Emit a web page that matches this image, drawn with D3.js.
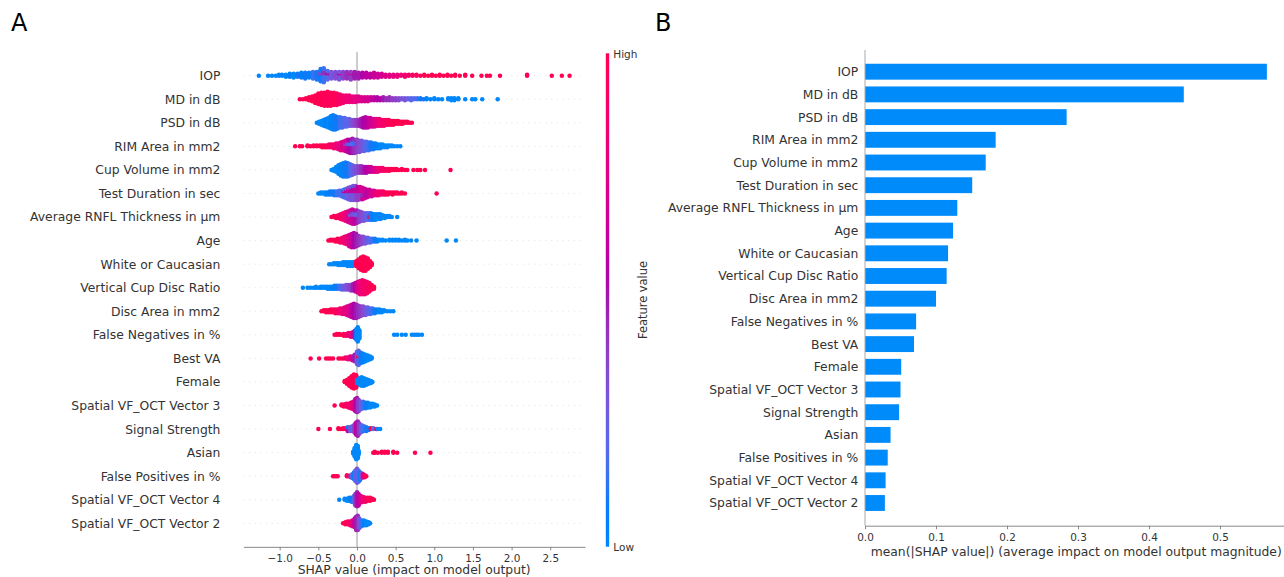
<!DOCTYPE html>
<html>
<head>
<meta charset="utf-8">
<script src="https://cdn.jsdelivr.net/npm/d3@7"></script>
<style>
  body { margin: 0; background: #fff; }
  svg { display: block; }
  text { font-family: "DejaVu Sans", sans-serif; }
</style>
</head>
<body>
<svg id="chart" width="1284" height="577"></svg>
<script>
// Features, ordered by mean |SHAP|
const features = [
  "IOP", "MD in dB", "PSD in dB", "RIM Area in mm2", "Cup Volume in mm2",
  "Test Duration in sec", "Average RNFL Thickness in µm", "Age", "White or Caucasian",
  "Vertical Cup Disc Ratio", "Disc Area in mm2", "False Negatives in %", "Best VA",
  "Female", "Spatial VF_OCT Vector 3", "Signal Strength", "Asian",
  "False Positives in %", "Spatial VF_OCT Vector 4", "Spatial VF_OCT Vector 2"
];

// mean(|SHAP value|) per feature
const meanAbsShap = [0.566, 0.449, 0.284, 0.184, 0.170, 0.151, 0.130, 0.124, 0.117, 0.115,
  0.100, 0.072, 0.069, 0.051, 0.050, 0.048, 0.036, 0.032, 0.029, 0.028];

const shapTicks = [-1.0, -0.5, 0.0, 0.5, 1.0, 1.5, 2.0, 2.5];
const barTicks = [0.0, 0.1, 0.2, 0.3, 0.4, 0.5];

// SHAP samples per feature: [shap value, number of samples, normalised feature value (0 low .. 1 high)]
const iop = [
  [-1.27,1,0],[-1.15,1,0],[-1.10,1,0],[-1.05,1,0],[-1.01,2,0],[-0.97,2,0.05],
  [-0.92,3,0],[-0.87,4,0.05],[-0.82,5,0],[-0.77,4,0.1],[-0.72,6,0.05],[-0.67,7,0.1],[-0.62,6,0.05],[-0.57,8,0.15],[-0.52,9,0.1],
  [-0.47,10,0.1],[-0.47,4,0.4],[-0.43,10,0.15],[-0.43,6,0.45],[-0.38,6,0.2],[-0.38,4,0.5],
  [-0.33,8,0.3],[-0.28,8,0.35],[-0.23,6,0.3],[-0.23,3,0.6],[-0.18,8,0.4],[-0.13,8,0.45],[-0.08,6,0.4],[-0.08,3,0.7],[-0.03,8,0.5],
  [0.02,7,0.5],[0.07,6,0.55],[0.12,6,0.6],[0.17,5,0.6],[0.22,6,0.65],[0.27,5,0.65],[0.32,4,0.7],[0.37,3,0.75],[0.42,3,0.75],
  [0.47,3,0.8],[0.52,3,0.8],[0.57,2,0.85],[0.62,3,0.85],[0.67,2,0.9],[0.72,2,0.9],[0.77,2,0.95],[0.82,1,0.95],[0.87,2,1],
  [0.92,1,1],[0.97,2,1],[1.02,1,1],[1.07,2,1],[1.12,1,1],[1.17,2,1],[1.22,1,1],[1.27,2,1],[1.33,1,1],[1.40,2,1],
  [1.49,1,1],[1.61,1,1],[1.68,1,1],[1.72,1,1],[1.85,1,1],[2.20,2,1],[2.52,1,1],[2.65,1,1],[2.75,1,1]
];
const mdDb = [
  [-0.74,1,1],[-0.70,1,1],[-0.66,2,1],[-0.62,4,1],[-0.58,6,1],[-0.54,9,1],[-0.50,12,1],[-0.46,14,1],[-0.42,15,0.95],
  [-0.38,16,1],[-0.34,15,0.95],[-0.30,14,1],[-0.26,13,0.95],[-0.22,11,0.9],[-0.18,9,0.9],[-0.14,8,0.85],[-0.10,8,0.85],
  [-0.06,7,0.8],[-0.02,7,0.8],[0.02,6,0.75],[0.06,5,0.75],[0.10,5,0.7],[0.14,5,0.7],[0.18,4,0.65],[0.22,4,0.6],
  [0.26,4,0.55],[0.30,3,0.55],[0.34,4,0.5],[0.38,3,0.45],[0.42,4,0.45],[0.46,3,0.4],[0.50,3,0.4],[0.54,3,0.35],
  [0.58,2,0.3],[0.62,3,0.3],[0.66,2,0.25],[0.70,3,0.2],[0.74,2,0.2],[0.78,2,0.15],[0.82,2,0.1],[0.86,1,0.1],[0.90,2,0.05],
  [0.95,1,0],[1.00,2,0],[1.05,1,0],[1.10,1,0],[1.18,2,0],[1.22,3,0],[1.26,3,0],[1.31,2,0],[1.40,1,0],[1.49,1,0],
  [1.53,1,0],[1.62,1,0],[1.82,1,0]
];
const psdDb = [
  [-0.52,1,0],[-0.49,3,0],[-0.46,5,0],[-0.43,7,0],[-0.40,9,0.05],[-0.37,11,0],[-0.34,14,0.05],[-0.31,16,0.05],
  [-0.28,15,0.1],[-0.25,13,0.1],[-0.22,12,0.15],[-0.19,11,0.15],[-0.16,10,0.2],[-0.13,9,0.2],[-0.10,8,0.25],
  [-0.07,7,0.3],[-0.04,7,0.35],[-0.01,7,0.4],[0.02,7,0.45],[0.05,9,0.5],[0.08,11,0.55],[0.11,12,0.55],[0.14,11,0.6],
  [0.17,10,0.65],[0.20,9,0.7],[0.23,9,0.75],[0.26,8,0.8],[0.29,8,0.85],[0.32,7,0.9],[0.35,7,0.9],[0.38,6,0.95],
  [0.41,6,0.95],[0.44,5,1],[0.47,5,1],[0.50,4,1],[0.53,4,1],[0.56,3,1],[0.59,3,1],[0.62,2,1],[0.65,2,1],[0.68,1,1],[0.71,1,1]
];
const rimArea = [
  [-0.80,1,1],[-0.74,1,1],[-0.71,1,1],[-0.64,2,1],[-0.60,1,1],[-0.56,2,1],[-0.52,2,1],[-0.48,2,1],[-0.45,3,1],
  [-0.42,3,1],[-0.39,3,0.95],[-0.36,4,0.95],[-0.33,4,0.9],[-0.30,5,0.9],[-0.27,6,0.85],[-0.24,7,0.8],[-0.21,9,0.75],
  [-0.18,10,0.7],[-0.15,8,0.7],[-0.15,4,0.4],[-0.12,9,0.6],[-0.12,5,0.3],[-0.09,10,0.55],[-0.09,5,0.2],[-0.06,10,0.5],[-0.06,6,0.2],
  [-0.03,9,0.45],[-0.03,6,0.15],[0.00,14,0.4],[0.03,13,0.35],[0.06,12,0.3],[0.09,11,0.25],[0.12,10,0.2],[0.15,9,0.15],
  [0.18,8,0.1],[0.21,7,0.1],[0.24,6,0.05],[0.27,5,0.05],[0.30,5,0],[0.33,4,0],[0.36,3,0],[0.39,3,0],[0.42,2,0],
  [0.45,2,0],[0.48,1,0],[0.52,1,0],[0.56,1,0]
];
const cupVolume = [
  [-0.33,1,0],[-0.30,3,0],[-0.27,6,0],[-0.24,10,0],[-0.21,13,0.05],[-0.18,15,0.05],[-0.15,16,0.1],[-0.12,15,0.1],
  [-0.09,13,0.15],[-0.06,11,0.2],[-0.03,9,0.3],[0.00,8,0.35],[0.03,8,0.4],[0.06,8,0.45],[0.09,7,0.5],[0.12,7,0.55],
  [0.15,6,0.6],[0.18,6,0.65],[0.21,5,0.7],[0.24,5,0.75],[0.27,5,0.8],[0.30,4,0.85],[0.33,4,0.9],[0.36,3,0.9],
  [0.39,3,0.95],[0.42,3,1],[0.45,2,1],[0.48,2,1],[0.51,2,1],[0.54,1,1],[0.58,2,1],[0.62,1,1],[0.65,1,1],
  [0.73,1,1],[0.78,1,1],[0.82,1,1],[0.88,1,1],[1.21,1,1]
];
const testDuration = [
  [-0.50,1,0],[-0.47,2,0],[-0.44,2,0],[-0.41,3,0],[-0.38,3,0.05],[-0.35,4,0.05],[-0.32,4,0.1],[-0.29,5,0.1],
  [-0.26,5,0.15],[-0.23,6,0.15],[-0.20,7,0.2],[-0.17,6,0.15],[-0.17,3,0.6],[-0.14,7,0.2],[-0.14,4,0.6],[-0.11,8,0.25],[-0.11,5,0.65],
  [-0.08,9,0.3],[-0.08,6,0.6],[-0.05,9,0.3],[-0.05,7,0.6],[-0.02,9,0.35],[-0.02,7,0.65],[0.01,8,0.4],[0.01,7,0.6],
  [0.04,7,0.4],[0.04,7,0.65],[0.07,6,0.45],[0.07,7,0.7],[0.10,5,0.5],[0.10,6,0.7],[0.13,9,0.6],[0.16,8,0.65],
  [0.19,7,0.7],[0.22,6,0.75],[0.25,5,0.8],[0.28,5,0.85],[0.31,4,0.9],[0.34,4,0.9],[0.37,3,0.95],[0.40,3,1],
  [0.43,2,1],[0.46,3,1],[0.49,2,1],[0.52,2,1],[0.55,1,1],[0.58,2,1],[0.62,1,1],[1.03,1,1]
];
const rnflThickness = [
  [-0.33,1,1],[-0.30,2,1],[-0.27,3,1],[-0.24,4,0.95],[-0.21,6,0.9],[-0.18,8,0.85],[-0.15,10,0.8],[-0.12,12,0.75],
  [-0.09,10,0.7],[-0.09,4,0.3],[-0.06,10,0.65],[-0.06,6,0.35],[-0.03,9,0.6],[-0.03,6,0.3],[0.00,8,0.5],[0.00,6,0.2],
  [0.03,12,0.4],[0.06,10,0.35],[0.09,9,0.3],[0.12,8,0.25],[0.15,8,0.2],[0.16,1,1],[0.18,8,0.1],[0.21,7,0.05],
  [0.24,7,0],[0.27,6,0],[0.30,5,0],[0.30,1,1],[0.33,4,0],[0.36,3,0],[0.39,2,0],[0.42,2,0],[0.45,1,0],[0.52,1,0]
];
const age = [
  [-0.37,1,1],[-0.34,2,1],[-0.31,2,1],[-0.28,3,1],[-0.25,4,1],[-0.22,5,0.95],[-0.19,6,0.9],[-0.16,8,0.85],
  [-0.13,10,0.8],[-0.10,13,0.7],[-0.07,15,0.65],[-0.04,16,0.55],[-0.01,14,0.5],[0.02,11,0.45],[0.05,9,0.4],
  [0.08,8,0.35],[0.11,7,0.3],[0.14,6,0.25],[0.17,5,0.2],[0.20,4,0.15],[0.23,4,0.1],[0.26,3,0.05],[0.29,2,0],
  [0.33,2,0],[0.37,1,0],[0.42,2,0],[0.46,2,0],[0.50,2,0],[0.54,2,0],[0.58,1,0],[0.62,2,0],[0.65,1,0],
  [0.70,1,0],[0.77,1,0],[1.16,1,0],[1.28,1,0]
];
const whiteCaucasian = [
  [-0.36,1,0],[-0.33,1,0],[-0.30,2,0],[-0.27,2,0],[-0.24,3,0],[-0.21,3,0],[-0.18,4,0],[-0.15,4,0],
  [-0.12,5,0],[-0.09,5,0],[-0.06,5,0],[-0.03,4,0],
  [-0.01,6,1],[0.02,10,1],[0.05,14,1],[0.08,16,1],[0.11,15,1],[0.14,12,1],[0.17,7,1],[0.19,3,1]
];
const verticalCdr = [
  [-0.70,1,0],[-0.64,1,0],[-0.60,1,0],[-0.56,1,0],[-0.53,2,0],[-0.50,1,0],[-0.47,2,0],[-0.44,2,0],[-0.41,2,0],
  [-0.38,3,0],[-0.35,3,0],[-0.32,3,0.05],[-0.29,4,0.05],[-0.26,4,0.1],[-0.23,4,0.15],[-0.20,5,0.2],[-0.17,5,0.25],
  [-0.14,6,0.3],[-0.11,6,0.35],[-0.08,7,0.4],[-0.05,8,0.5],[-0.02,10,0.6],[0.01,12,0.7],[0.04,15,0.8],
  [0.07,16,0.85],[0.10,15,0.9],[0.13,13,0.9],[0.16,10,0.95],[0.19,6,1],[0.22,3,1]
];
const discArea = [
  [-0.46,1,1],[-0.43,2,1],[-0.40,3,1],[-0.37,3,1],[-0.34,4,1],[-0.31,4,1],[-0.28,5,0.95],[-0.25,5,0.9],
  [-0.22,6,0.9],[-0.19,7,0.85],[-0.16,8,0.8],[-0.13,10,0.75],[-0.10,12,0.7],[-0.07,14,0.6],[-0.04,16,0.55],
  [-0.01,15,0.5],[0.02,13,0.45],[0.05,11,0.4],[0.08,10,0.35],[0.11,9,0.3],[0.14,8,0.25],[0.17,7,0.2],
  [0.20,6,0.15],[0.23,5,0.1],[0.26,4,0.05],[0.29,4,0],[0.32,3,0],[0.35,2,0],[0.39,1,0],[0.43,1,0],[0.47,1,0]
];
const falseNegatives = [
  [-0.29,1,1],[-0.26,2,1],[-0.23,2,1],[-0.20,1,1],[-0.17,3,1],[-0.14,3,0.9],[-0.11,4,0.85],[-0.08,5,0.8],
  [-0.05,6,0.7],[-0.03,8,0.5],[-0.01,12,0.1],[0.01,16,0],[0.03,10,0],
  [0.48,1,0],[0.52,1,0],[0.58,1,0],[0.63,1,0],[0.71,1,0],[0.74,1,0],[0.77,1,0],[0.80,1,0],[0.84,1,0]
];
const bestVa = [
  [-0.60,1,1],[-0.49,1,1],[-0.40,1,1],[-0.37,1,1],[-0.34,1,1],[-0.31,1,1],[-0.24,1,1],[-0.21,1,1],[-0.18,1,1],
  [-0.15,2,0.9],[-0.12,3,0.85],[-0.09,4,0.8],[-0.06,5,0.7],[-0.03,8,0.5],[0.00,14,0.3],[0.02,13,0.2],[0.02,3,1],
  [0.05,12,0.1],[0.08,10,0.05],[0.11,8,0],[0.14,6,0],[0.17,4,0],[0.19,2,0]
];
const female = [
  [-0.16,2,1],[-0.13,5,1],[-0.10,9,1],[-0.07,13,1],[-0.04,16,1],[-0.01,14,1],[0.02,6,1],
  [0.00,4,0],[0.03,8,0],[0.06,9,0],[0.06,1,1],[0.09,9,0],[0.12,7,0],[0.15,5,0],[0.18,3,0],[0.20,1,0]
];
const spatialVec3 = [
  [-0.29,1,1],[-0.20,2,1],[-0.17,3,1],[-0.14,4,0.95],[-0.11,5,0.9],[-0.08,7,0.85],[-0.05,9,0.75],[-0.02,14,0.6],
  [0.00,16,0.5],[0.02,13,0.4],[0.05,9,0.25],[0.08,8,0.15],[0.11,7,0.1],[0.14,6,0.05],[0.17,5,0],[0.20,4,0],
  [0.23,3,0],[0.26,1,0]
];
const signalStrength = [
  [-0.50,1,1],[-0.35,1,1],[-0.24,2,1],[-0.21,1,1],[-0.18,2,1],[-0.15,2,0.9],[-0.12,3,0.6],[-0.12,2,0.1],
  [-0.09,5,0.3],[-0.06,6,0.2],[-0.03,10,0.4],[-0.01,14,0.6],[0.01,16,0.5],[0.03,12,0.4],[0.06,8,0.2],
  [0.09,6,0.15],[0.12,5,0.1],[0.15,3,0.1],[0.18,2,1],[0.21,2,0.2],[0.25,1,1],[0.27,1,0],[0.30,1,0]
];
const asian = [
  [-0.05,3,0],[-0.03,10,0],[-0.01,16,0],[0.01,14,0],[0.02,5,0],
  [0.21,1,1],[0.23,2,1],[0.27,1,1],[0.32,2,1],[0.36,2,1],[0.40,2,1],[0.47,2,1],[0.52,1,1],[0.75,1,1],[0.95,1,1]
];
const falsePositives = [
  [-0.31,1,1],[-0.29,1,1],[-0.27,1,1],[-0.25,1,1],[-0.13,2,1],[-0.11,1,1],[-0.08,3,0.4],[-0.06,5,0.2],
  [-0.04,8,0.1],[-0.02,12,0.2],[0.00,16,0.3],[0.02,13,0.2],[0.04,9,0.1],[0.06,6,0.3],[0.08,4,0.7],[0.10,3,0.9],[0.12,1,1]
];
const spatialVec4 = [
  [-0.23,1,0],[-0.16,2,0],[-0.13,3,0],[-0.10,4,0.05],[-0.07,5,0.1],[-0.04,8,0.2],[-0.02,13,0.4],[0.00,16,0.5],
  [0.02,13,0.6],[0.05,8,0.75],[0.08,6,0.85],[0.11,5,0.9],[0.14,4,0.95],[0.17,4,1],[0.20,2,1],[0.22,1,1]
];
const spatialVec2 = [
  [-0.18,1,1],[-0.15,3,1],[-0.12,4,0.95],[-0.09,5,0.9],[-0.06,7,0.8],[-0.03,10,0.65],[-0.01,15,0.5],
  [0.01,16,0.45],[0.03,11,0.3],[0.06,7,0.15],[0.09,6,0.05],[0.12,5,0],[0.15,3,0],[0.17,1,0]
];

const samples = [iop, mdDb, psdDb, rimArea, cupVolume, testDuration, rnflThickness, age, whiteCaucasian,
  verticalCdr, discArea, falseNegatives, bestVa, female, spatialVec3, signalStrength, asian,
  falsePositives, spatialVec4, spatialVec2];

// ---- colour map: blue -> purple -> red through LCh, lightness dipping in the middle
function featureColor(t) {
  t = Math.max(0, Math.min(1, t));
  const l = t < 0.5 ? 54 + (40 - 54) * (t / 0.5) : 40 + (54 - 40) * ((t - 0.5) / 0.5);
  const c = 70 + 20 * t;
  const h = 266.93 + (380.32 - 266.93) * t;
  return d3.hcl(h % 360, c, l).formatHex();
}

const svg = d3.select("#chart");
const axisGrey = "#333333";

// ---------- Panel A : beeswarm ----------
const xA = d3.scaleLinear().domain([-1.47, 2.95]).range([357 - 1.47 * 77.3, 357 + 2.95 * 77.3]);
const rowA = d3.scaleLinear().domain([0, features.length - 1]).range([75.7, 523.3]);
const rowStepA = rowA(1) - rowA(0);
const topA = rowA(-1), bottomA = rowA(features.length);

const gA = svg.append("g");

// dotted row guides
gA.selectAll("line.guide").data(features).join("line")
  .attr("class", "guide")
  .attr("x1", xA.range()[0]).attr("x2", xA.range()[1])
  .attr("y1", (d, i) => rowA(i)).attr("y2", (d, i) => rowA(i))
  .attr("stroke", "#cccccc").attr("stroke-width", 0.6).attr("stroke-dasharray", "1 4.7");

// zero line
gA.append("line")
  .attr("x1", xA(0)).attr("x2", xA(0)).attr("y1", topA).attr("y2", bottomA)
  .attr("stroke", "#999999").attr("stroke-width", 1);

// swarm layout: stack samples sharing a SHAP value, alternating above/below the row
function swarm(entries) {
  const cols = [];
  let maxN = 0;
  for (const [x, list] of d3.group(entries, d => d[0])) {
    const queue = list.map(e => ({ c: e[2], left: e[1] }));
    const col = [];
    while (queue.some(q => q.left > 0)) {
      for (const q of queue) if (q.left > 0) { col.push(q.c); q.left--; }
    }
    cols.push({ x, col });
    maxN = Math.max(maxN, col.length);
  }
  const maxYs = Math.ceil((maxN - 1) / 2);
  const k = 0.9 * 0.4 / (maxYs + 1);
  const pts = [];
  cols.forEach(({ x, col }) => col.forEach((c, layer) => {
    const ys = Math.ceil(layer / 2) * ((layer % 2) * 2 - 1);
    pts.push({ x, c, off: ys * k });
  }));
  return pts;
}

samples.forEach((entries, i) => {
  const pts = swarm(entries);
  gA.append("g").selectAll("circle").data(pts).join("circle")
    .attr("cx", d => xA(d.x))
    .attr("cy", d => rowA(i) - d.off * rowStepA)
    .attr("r", 2.25)
    .attr("fill", d => featureColor(d.c));
});

// feature labels
gA.selectAll("text.feat").data(features).join("text")
  .attr("class", "feat")
  .attr("x", 220.4).attr("y", (d, i) => rowA(i)).attr("dy", "0.36em")
  .attr("text-anchor", "end").attr("font-size", "12.35px").attr("fill", axisGrey)
  .text(d => d);

// x axis
const axA = gA.append("g").attr("transform", `translate(0,${bottomA})`)
  .call(d3.axisBottom(xA).tickValues(shapTicks).tickSize(3.5).tickSizeOuter(0).tickPadding(3.9)
    .tickFormat(d => d3.format(".1f")(d).replace("-", "\u2212")));
axA.select(".domain").attr("stroke", "#888888").attr("stroke-width", 1);
axA.selectAll(".tick line").attr("stroke", "#888888");
axA.selectAll(".tick text").attr("font-size", "10.45px").attr("fill", axisGrey)
  .attr("font-family", "DejaVu Sans, sans-serif");

gA.append("text")
  .attr("x", (xA.range()[0] + xA.range()[1]) / 2).attr("y", 573.8)
  .attr("text-anchor", "middle").attr("font-size", "12.35px").attr("fill", axisGrey)
  .text("SHAP value (impact on model output)");

// colour bar
const defs = svg.append("defs");
const grad = defs.append("linearGradient").attr("id", "fvGrad")
  .attr("x1", 0).attr("y1", 1).attr("x2", 0).attr("y2", 0);
d3.range(0, 1.0001, 0.05).forEach(t => grad.append("stop")
  .attr("offset", t).attr("stop-color", featureColor(t)));
svg.append("rect").attr("x", 605.8).attr("y", 53.3).attr("width", 3.4).attr("height", 546.7 - 53.3)
  .attr("fill", "url(#fvGrad)");
svg.append("text").attr("x", 613.3).attr("y", 54).attr("dy", "0.36em")
  .attr("font-size", "10.5px").attr("fill", axisGrey).text("High");
svg.append("text").attr("x", 613.3).attr("y", 547.7).attr("dy", "0.36em")
  .attr("font-size", "10.5px").attr("fill", axisGrey).text("Low");
svg.append("text").attr("transform", "translate(643.3,300) rotate(-90)").attr("dy", "0.36em")
  .attr("text-anchor", "middle").attr("font-size", "11.4px").attr("fill", axisGrey).text("Feature value");

// ---------- Panel B : mean |SHAP| bars ----------
const xB = d3.scaleLinear().domain([0, 0.595]).range([865, 865 + 0.595 * 710]);
const rowB = d3.scaleLinear().domain([0, features.length - 1]).range([71.7, 503]);
const rowStepB = rowB(1) - rowB(0);
const gB = svg.append("g");

gB.selectAll("rect.bar").data(meanAbsShap).join("rect")
  .attr("class", "bar")
  .attr("x", xB(0)).attr("width", d => xB(d) - xB(0))
  .attr("y", (d, i) => rowB(i) - 0.35 * rowStepB).attr("height", 0.7 * rowStepB)
  .attr("fill", "#008bfb");

gB.selectAll("text.feat").data(features).join("text")
  .attr("class", "feat")
  .attr("x", 858.3).attr("y", (d, i) => rowB(i)).attr("dy", "0.36em")
  .attr("text-anchor", "end").attr("font-size", "12.35px").attr("fill", axisGrey)
  .text(d => d);

const topB = 50, bottomB = 525.7;
gB.append("line").attr("x1", xB(0)).attr("x2", xB(0)).attr("y1", topB).attr("y2", bottomB)
  .attr("stroke", "#aaaaaa").attr("stroke-width", 1);

const axB = gB.append("g").attr("transform", `translate(0,${bottomB})`)
  .call(d3.axisBottom(xB).tickValues(barTicks).tickSize(3.5).tickSizeOuter(0).tickPadding(3.9)
    .tickFormat(d3.format(".1f")));
axB.select(".domain").attr("stroke", "#888888").attr("stroke-width", 1);
axB.selectAll(".tick line").attr("stroke", "#888888");
axB.selectAll(".tick text").attr("font-size", "10.45px").attr("fill", axisGrey)
  .attr("font-family", "DejaVu Sans, sans-serif");

gB.append("text")
  .attr("x", (xB.range()[0] + xB.range()[1]) / 2).attr("y", 555.5)
  .attr("text-anchor", "middle").attr("font-size", "12.35px").attr("fill", axisGrey)
  .text("mean(|SHAP value|) (average impact on model output magnitude)");

// panel letters
svg.append("text").attr("x", 11).attr("y", 31).attr("font-size", "24px")
  .attr("font-family", "Liberation Sans, Arial, sans-serif").attr("fill", "#000").text("A");
svg.append("text").attr("x", 655).attr("y", 31).attr("font-size", "24px")
  .attr("font-family", "Liberation Sans, Arial, sans-serif").attr("fill", "#000").text("B");
</script>
</body>
</html>
